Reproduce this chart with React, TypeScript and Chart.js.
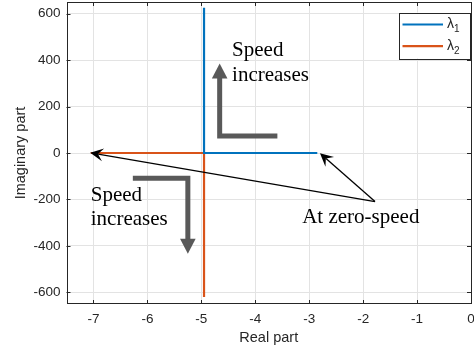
import React, { useEffect, useRef } from "react";
import { Chart, registerables } from "chart.js";

Chart.register(...registerables);

// ---- data ----
const lambda1Real = [-2.85, -4.95, -4.95];
const lambda1Imag = [0, 0, 625];
const lambda2Real = [-7.05, -4.95, -4.95];
const lambda2Imag = [0, 0, -620];
const seriesLabels = ["λ1", "λ2"];
const xTicks = [-7, -6, -5, -4, -3, -2, -1, 0];
const yTicks = [-600, -400, -200, 0, 200, 400, 600];

// ---- annotations (data units) ----
const upperArrowPath = [
  [-3.59, 73],
  [-4.66, 73],
  [-4.66, 385],
];
const lowerArrowPath = [
  [-6.27, -109],
  [-5.25, -109],
  [-5.25, -434],
];
const upperText = { x: -4.43, y: [417, 309], lines: ["Speed", "increases"] };
const lowerText = { x: -7.05, y: [-205, -309], lines: ["Speed", "increases"] };
const zeroText = { x: -3.13, y: -301, text: "At zero-speed" };
const zeroOrigin = [-1.78, -209];
const zeroTargets = [
  [-7.06, 1],
  [-2.8, -1],
];

const BLUE = "#0072BD";
const ORANGE = "#D95319";
const GRAY = "#595959";
const AXIS = "#262626";

function arrowHead(ctx, fx, fy, tx, ty, len, halfW, notch, color) {
  const ang = Math.atan2(ty - fy, tx - fx);
  const c = Math.cos(ang), s = Math.sin(ang);
  const bx = tx - c * len, by = ty - s * len;
  const nx = tx - c * len * notch, ny = ty - s * len * notch;
  ctx.beginPath();
  ctx.moveTo(tx, ty);
  ctx.lineTo(bx - s * halfW, by + c * halfW);
  ctx.lineTo(nx, ny);
  ctx.lineTo(bx + s * halfW, by - c * halfW);
  ctx.closePath();
  ctx.fillStyle = color;
  ctx.fill();
}

const annotPlugin = {
  id: "annot",
  afterDraw(chart) {
    const ctx = chart.ctx;
    const xs = chart.scales.x, ys = chart.scales.y;
    const P = (x, y) => [xs.getPixelForValue(x), ys.getPixelForValue(y)];
    const area = chart.chartArea;
    ctx.save();

    // box + inner ticks
    ctx.strokeStyle = AXIS;
    ctx.lineWidth = 1;
    ctx.strokeRect(Math.round(area.left) + 0.5, Math.round(area.top) + 0.5,
      Math.round(area.right - area.left) - 1, Math.round(area.bottom - area.top) - 1);
    const tl = 4;
    ctx.beginPath();
    xTicks.forEach((v) => {
      const px = Math.round(xs.getPixelForValue(v)) + 0.5;
      ctx.moveTo(px, area.bottom);
      ctx.lineTo(px, area.bottom - tl);
      ctx.moveTo(px, area.top);
      ctx.lineTo(px, area.top + tl);
    });
    yTicks.forEach((v) => {
      const py = Math.round(ys.getPixelForValue(v)) + 0.5;
      ctx.moveTo(area.left, py);
      ctx.lineTo(area.left + tl, py);
      ctx.moveTo(area.right, py);
      ctx.lineTo(area.right - tl, py);
    });
    ctx.stroke();

    // gray L arrows
    const drawL = (path) => {
      const pts = path.map((p) => P(p[0], p[1]));
      const tip = pts[pts.length - 1];
      const prev = pts[pts.length - 2];
      const len = 15;
      const ang = Math.atan2(tip[1] - prev[1], tip[0] - prev[0]);
      const endX = tip[0] - Math.cos(ang) * (len - 1);
      const endY = tip[1] - Math.sin(ang) * (len - 1);
      ctx.beginPath();
      ctx.moveTo(pts[0][0], pts[0][1]);
      for (let i = 1; i < pts.length - 1; i++) ctx.lineTo(pts[i][0], pts[i][1]);
      ctx.lineTo(endX, endY);
      ctx.strokeStyle = GRAY;
      ctx.lineWidth = 5;
      ctx.lineJoin = "miter";
      ctx.lineCap = "butt";
      ctx.stroke();
      arrowHead(ctx, prev[0], prev[1], tip[0], tip[1], len, 7.8, 1, GRAY);
    };
    drawL(upperArrowPath);
    drawL(lowerArrowPath);

    // texts
    ctx.fillStyle = "#000";
    ctx.font = '21px "Liberation Serif", "Times New Roman", serif';
    ctx.textAlign = "left";
    ctx.textBaseline = "alphabetic";
    [upperText, lowerText].forEach((t) => {
      t.lines.forEach((ln, i) => {
        const [px, py] = P(t.x, t.y[i]);
        ctx.fillText(ln, px, py);
      });
    });
    {
      const [px, py] = P(zeroText.x, zeroText.y);
      ctx.fillText(zeroText.text, px, py);
    }

    // black thin arrows
    const [ox, oy] = P(zeroOrigin[0], zeroOrigin[1]);
    zeroTargets.forEach((t) => {
      const [tx, ty] = P(t[0], t[1]);
      const ang = Math.atan2(ty - oy, tx - ox);
      ctx.beginPath();
      ctx.moveTo(ox, oy);
      ctx.lineTo(tx - Math.cos(ang) * 8, ty - Math.sin(ang) * 8);
      ctx.strokeStyle = "#000";
      ctx.lineWidth = 1.3;
      ctx.stroke();
      arrowHead(ctx, ox, oy, tx, ty, 13, 6.5, 0.6, "#000");
    });

    // legend
    const lx0 = area.right - 72, ly0 = area.top + 10.5, lw = 71, lh = 46;
    ctx.fillStyle = "#fff";
    ctx.fillRect(lx0, ly0, lw, lh);
    ctx.strokeStyle = AXIS;
    ctx.lineWidth = 1;
    ctx.strokeRect(Math.round(lx0) + 0.5, Math.round(ly0) + 0.5, lw, lh);
    chart.data.datasets.forEach((ds, i) => {
      const yy = ly0 + 12 + i * 21.7;
      ctx.beginPath();
      ctx.moveTo(lx0 + 3.5, yy);
      ctx.lineTo(lx0 + 44, yy);
      ctx.strokeStyle = ds.borderColor;
      ctx.lineWidth = 2.2;
      ctx.stroke();
      const lab = seriesLabels[i];
      ctx.fillStyle = AXIS;
      ctx.textBaseline = "middle";
      ctx.font = '14px "Liberation Sans", Arial, sans-serif';
      ctx.fillText(lab.charAt(0), lx0 + 48, yy);
      const w = ctx.measureText(lab.charAt(0)).width;
      ctx.font = '10px "Liberation Sans", Arial, sans-serif';
      ctx.fillText(lab.slice(1), lx0 + 48 + w, yy + 5);
    });
    ctx.restore();
  },
};

export default function App() {
  const ref = useRef(null);
  useEffect(() => {
    document.body.style.margin = "0";
    const tickFont = { family: '"Liberation Sans", Arial, sans-serif', size: 13.5 };
    const titleFont = { family: '"Liberation Sans", Arial, sans-serif', size: 14.5 };
    const chart = new Chart(ref.current, {
      type: "line",
      data: {
        datasets: [
          {
            label: seriesLabels[0],
            data: lambda1Real.map((x, i) => ({ x, y: lambda1Imag[i] })),
            borderColor: BLUE,
            borderWidth: 2.2,
            pointRadius: 0,
            fill: false,
            tension: 0,
          },
          {
            label: seriesLabels[1],
            data: lambda2Real.map((x, i) => ({ x, y: lambda2Imag[i] })),
            borderColor: ORANGE,
            borderWidth: 2.2,
            pointRadius: 0,
            fill: false,
            tension: 0,
          },
        ],
      },
      options: {
        responsive: false,
        animation: false,
        layout: { padding: { top: 2, right: 3, left: 0, bottom: 0 } },
        plugins: { legend: { display: false }, tooltip: { enabled: false } },
        scales: {
          x: {
            type: "linear",
            min: -7.5,
            max: 0,
            afterBuildTicks: (s) => {
              s.ticks = xTicks.map((v) => ({ value: v }));
            },
            afterFit: (s) => {
              s.height = 45;
              s.paddingLeft = 0;
              s.paddingRight = 0;
            },
            grid: { color: "#e3e3e3", drawTicks: false },
            border: { display: false },
            ticks: { color: AXIS, font: tickFont, padding: 7, maxRotation: 0 },
            title: { display: true, text: "Real part", color: AXIS, font: titleFont, padding: { top: 2, bottom: 2 } },
          },
          y: {
            type: "linear",
            min: -650,
            max: 650,
            afterBuildTicks: (s) => {
              s.ticks = yTicks.map((v) => ({ value: v }));
            },
            afterFit: (s) => {
              s.width = 66.5;
              s.paddingTop = 0;
              s.paddingBottom = 0;
            },
            grid: { color: "#e3e3e3", drawTicks: false },
            border: { display: false },
            ticks: { color: AXIS, font: tickFont, padding: 6 },
            title: { display: true, text: "Imaginary part", color: AXIS, font: titleFont, padding: { top: 12, bottom: 4 } },
          },
        },
      },
      plugins: [annotPlugin],
    });
    return () => chart.destroy();
  }, []);
  return <canvas ref={ref} width={474} height={349} style={{ display: "block" }} />;
}
